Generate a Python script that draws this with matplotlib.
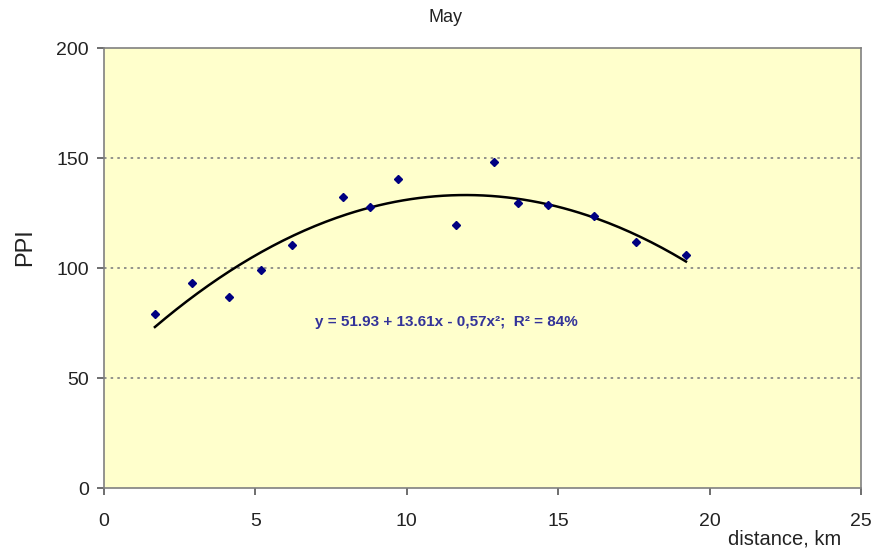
import numpy as np
import matplotlib
matplotlib.use("Agg")
import matplotlib.pyplot as plt

plt.rcParams['font.family'] = ['Liberation Sans', 'DejaVu Sans']

dist = [1.68, 2.91, 4.13, 5.18, 6.21, 7.89, 8.78, 9.71, 11.62, 12.88, 13.67, 14.66, 16.18, 17.57, 19.22]
ppi = [79.1, 93.2, 86.8, 99.1, 110.5, 132.3, 127.7, 140.5, 119.5, 148.2, 129.5, 128.6, 123.6, 111.8, 105.9]

# trendline coefficients as printed on the chart: y = a + b*x + c*x^2
coef = [51.93, 13.61, -0.57]
eq_label = "y = 51.93 + 13.61x - 0,57x²;  R² = 84%"

fig = plt.figure(figsize=(8.75, 5.52), dpi=100)
ax = fig.add_axes([0.1189, 0.1159, 0.8651, 0.7971])
ax.set_facecolor('#FFFFCC')

xs = np.linspace(min(dist), max(dist), 200)
ys = coef[0] + coef[1]*xs + coef[2]*xs**2
ax.plot(xs, ys, color='black', lw=1.8, zorder=3)
ax.plot(dist, ppi, 'D', color='#000080', ms=4, ls='none', zorder=4)

ax.set_xlim(0, 25)
ax.set_ylim(0, 200)
ax.set_xticks([0, 5, 10, 15, 20, 25])
ax.set_yticks([0, 50, 100, 150, 200])
for v in [50, 100, 150]:
    ax.axhline(v, color='#808080', lw=1.2, ls=(0, (1.5, 2.5)), zorder=1)

for s in ax.spines.values():
    s.set_color('#808080')
    s.set_linewidth(1.2)
ax.tick_params(direction='out', length=5, width=1.2, color='#555555',
               labelsize=14, labelcolor='#222222', pad=6)
ax.tick_params(axis='x', pad=13)

ax.text(11.3, 75.5, eq_label, ha='center', va='center', fontsize=11,
        fontweight='bold', color='#333399')

fig.text(446/875, 1 - 18/552, 'May', ha='center', va='center', fontsize=13, color='#222222')
fig.text(0.029, 0.553, 'PPI', ha='center', va='center', rotation=90, fontsize=17, color='#222222')
fig.text(0.961, 0.024, 'distance, km', ha='right', va='center', fontsize=14.5, color='#222222')

fig.savefig('out.png', dpi=100)
